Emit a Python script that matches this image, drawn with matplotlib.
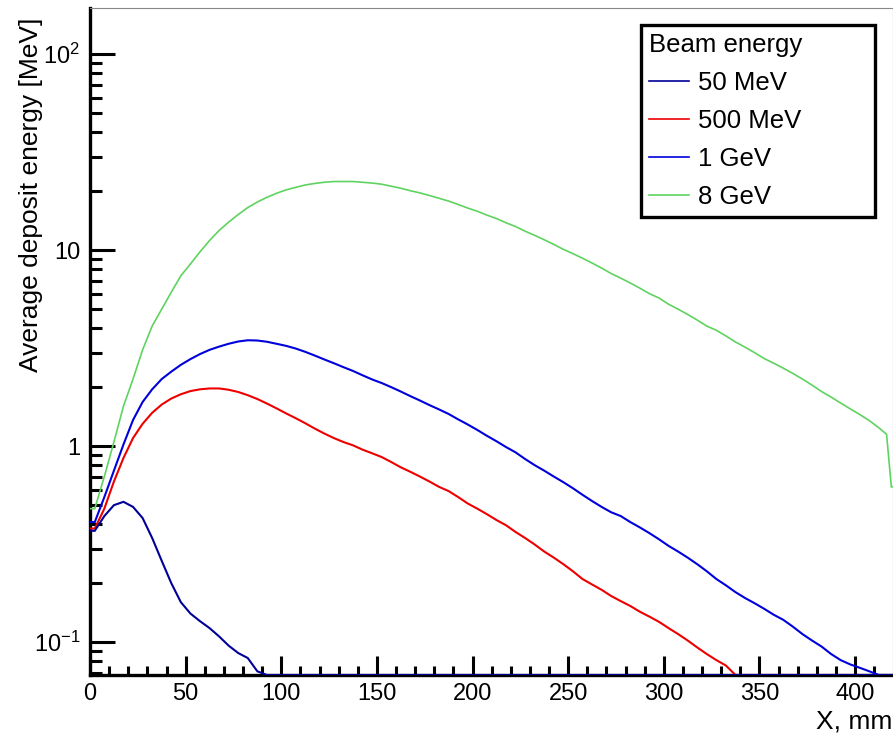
import numpy as np
import matplotlib
matplotlib.use("Agg")
import matplotlib.pyplot as plt
from matplotlib.lines import Line2D
from matplotlib.ticker import FixedLocator, FixedFormatter, LogLocator, MultipleLocator, NullFormatter

plt.rcParams['font.family'] = ['Liberation Sans', 'DejaVu Sans']
plt.rcParams['mathtext.fontset'] = 'custom'
plt.rcParams['mathtext.rm'] = 'Liberation Sans'
plt.rcParams['mathtext.it'] = 'Liberation Sans:italic'
plt.rcParams['mathtext.bf'] = 'Liberation Sans:bold'

# histogram bins, 5 mm wide (green keeps the short last bins at the far edge)
bin_edges = np.arange(0, 421, 5)
green_edges = np.r_[bin_edges[:-1], 418, 420]

# average deposit energy per bin [MeV], 0 = empty bin
e_50mev = [0.37, 0.44, 0.50, 0.52, 0.49, 0.43, 0.34, 0.26, 0.20, 0.16,
           0.14, 0.128, 0.118, 0.107, 0.096, 0.088, 0.083, 0.071] + [0] * 66

e_500mev = [0.38, 0.48, 0.66, 0.87, 1.10, 1.30, 1.48, 1.63, 1.75, 1.84,
            1.91, 1.95, 1.97, 1.97, 1.94, 1.89, 1.82, 1.74, 1.65, 1.56,
            1.47, 1.39, 1.31, 1.23, 1.16, 1.10, 1.05, 1.01, 0.96, 0.92,
            0.88, 0.83, 0.78, 0.74, 0.70, 0.66, 0.62, 0.59, 0.55, 0.51,
            0.48, 0.45, 0.42, 0.395, 0.365, 0.34, 0.315, 0.29, 0.27, 0.25,
            0.23, 0.21, 0.197, 0.185, 0.172, 0.162, 0.153, 0.143, 0.135, 0.127,
            0.118, 0.110, 0.102, 0.094, 0.087, 0.081, 0.076] + [0] * 17

e_1gev = [0.41, 0.55, 0.75, 1.02, 1.36, 1.68, 1.95, 2.20, 2.40, 2.60,
          2.78, 2.95, 3.10, 3.22, 3.33, 3.42, 3.47, 3.46, 3.41, 3.33,
          3.25, 3.15, 3.03, 2.90, 2.77, 2.65, 2.53, 2.42, 2.30, 2.19,
          2.10, 2.00, 1.90, 1.80, 1.71, 1.62, 1.54, 1.46, 1.37, 1.29,
          1.21, 1.13, 1.06, 0.99, 0.93, 0.86, 0.80, 0.75, 0.70, 0.655,
          0.61, 0.565, 0.525, 0.49, 0.46, 0.44, 0.41, 0.385, 0.36, 0.335,
          0.31, 0.29, 0.27, 0.25, 0.23, 0.21, 0.195, 0.18, 0.168, 0.158,
          0.148, 0.138, 0.130, 0.120, 0.110, 0.102, 0.095, 0.087, 0.081, 0.077,
          0.074, 0.071, 0, 0]

e_8gev = [0.48, 0.70, 1.05, 1.60, 2.20, 3.10, 4.10, 5.00, 6.10, 7.40,
          8.50, 9.80, 11.2, 12.6, 13.9, 15.2, 16.5, 17.6, 18.6, 19.5,
          20.3, 20.9, 21.5, 21.9, 22.2, 22.4, 22.4, 22.4, 22.2, 22.0,
          21.7, 21.2, 20.7, 20.1, 19.6, 19.0, 18.4, 17.8, 17.1, 16.4,
          15.8, 15.1, 14.5, 13.8, 13.2, 12.5, 11.9, 11.3, 10.7, 10.1,
          9.6, 9.1, 8.6, 8.1, 7.6, 7.2, 6.8, 6.4, 6.0, 5.7,
          5.3, 5.0, 4.7, 4.4, 4.1, 3.9, 3.65, 3.4, 3.2, 3.0,
          2.8, 2.65, 2.5, 2.35, 2.2, 2.05, 1.9, 1.78, 1.66, 1.55,
          1.45, 1.35, 1.24, 1.15, 0.62]

labels = ["50 MeV", "500 MeV", "1 GeV", "8 GeV"]
colors = ["#000099", "#ee0000", "#0000dd", "#5fd35f"]

y_lo, y_hi = 0.068, 172

fig = plt.figure(figsize=(8.93, 7.35), dpi=100)
ax = fig.add_axes([90 / 893, 1 - 675 / 735, 802.5 / 893, 667 / 735])

series = [(green_edges, e_8gev, colors[3], 1.2, 3),
          (bin_edges, e_1gev, colors[2], 1.5, 4),
          (bin_edges, e_500mev, colors[1], 1.5, 5),
          (bin_edges, e_50mev, colors[0], 1.5, 6)]
for edges, vals, c, lw, z in series:
    v = np.asarray(vals, dtype=float)
    v = np.where(v > 0, v, y_lo)  # empty bins sit on the frame, ROOT style
    centers = 0.5 * (edges[:-1] + edges[1:])
    xs = np.r_[edges[0], centers, edges[-1]]
    ys = np.r_[v[0], v, v[-1]]
    ax.plot(xs, ys, color=c, linewidth=lw, zorder=z, solid_joinstyle="miter")

ax.set_yscale("log")
ax.set_xlim(0, 419.6)
ax.set_ylim(y_lo, y_hi)

ax.yaxis.set_major_locator(FixedLocator([0.1, 1, 10, 100]))
ax.yaxis.set_major_formatter(FixedFormatter([r"$10^{-1}$", "1", "10", r"$10^{2}$"]))
ax.yaxis.set_minor_locator(LogLocator(base=10, subs=np.arange(2, 10)))
ax.yaxis.set_minor_formatter(NullFormatter())
ax.xaxis.set_major_locator(MultipleLocator(50))
ax.xaxis.set_minor_locator(MultipleLocator(10))

ax.tick_params(axis="y", which="major", direction="in", length=18, width=2.2,
               labelsize=17, pad=7, right=False)
ax.tick_params(axis="y", which="minor", direction="in", length=8.6, width=2.2, right=False)
ax.tick_params(axis="x", which="major", direction="in", length=13.7, width=2.2,
               labelsize=17, pad=6, top=False)
ax.tick_params(axis="x", which="minor", direction="in", length=6.5, width=2.2, top=False)

for side in ("left", "bottom"):
    ax.spines[side].set_linewidth(2.4)
    ax.spines[side].set_color("black")
for side in ("top", "right"):
    ax.spines[side].set_linewidth(0.8)
    ax.spines[side].set_color("#888888")

ax.set_xlabel("X, mm", fontsize=19, loc="right")
ax.xaxis.set_label_coords(1.0, -0.052)
ax.xaxis.label.set_va("top")
ax.set_ylabel("Average deposit energy [MeV]", fontsize=19, loc="top")
ax.yaxis.set_label_coords(-0.0586, 0.985)

handles = [Line2D([], [], color=c, linewidth=1.2) for c in colors]
leg = ax.legend(handles, labels, title="Beam energy", title_fontsize=18.5, fontsize=18.5,
                loc="upper left", bbox_to_anchor=(641 / 893, 1 - 25 / 735, 234 / 893, 0),
                bbox_transform=fig.transFigure, mode="expand", borderaxespad=0,
                fancybox=False, framealpha=1, edgecolor="black",
                handlelength=1.55, handletextpad=0.35, labelspacing=0.55,
                borderpad=0.3, alignment="left")
leg.get_frame().set_linewidth(2.4)
leg.set_zorder(10)

fig.savefig("out.png", dpi=100)
